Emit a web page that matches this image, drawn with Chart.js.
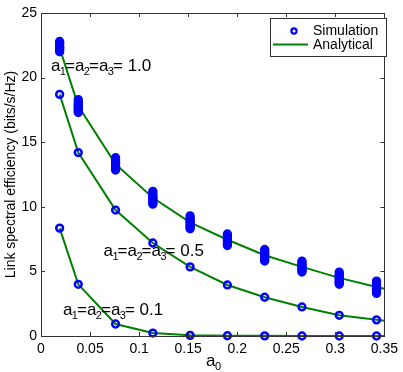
<!DOCTYPE html>
<html>
<head>
<meta charset="utf-8">
<script src="https://cdn.jsdelivr.net/npm/chart.js@4"></script>
<style>
  html, body { margin: 0; padding: 0; background: #fff; }
  #wrap { width: 403px; height: 372px; }
</style>
</head>
<body>
<div id="wrap"><canvas id="mychart" width="403" height="372"></canvas></div>
<script>
// a0 values where the curves were evaluated
var a0Values = [0.019, 0.038, 0.076, 0.114, 0.152, 0.19, 0.228, 0.266, 0.304, 0.342];
var a0Analytical = [0.019, 0.038, 0.076, 0.114, 0.152, 0.19, 0.228, 0.266, 0.304, 0.342, 0.35];

// analytical curves (bits/s/Hz)
var analytical10 = [22.3, 17.8, 13.3, 10.7, 8.8, 7.45, 6.25, 5.35, 4.5, 3.8, 3.65];
var analytical05 = [18.7, 14.2, 9.75, 7.2, 5.35, 3.95, 3.0, 2.25, 1.6, 1.25, 1.18];
var analytical01 = [8.35, 4.0, 0.93, 0.23, 0.05, 0.02, 0.01, 0.0, 0.0, 0.0, 0.0];

// simulation runs, several per a0 for a1=a2=a3=1.0
var sim10 = [
  [22.0, 22.1, 22.2, 22.3, 22.35, 22.45, 22.55, 22.65, 22.72, 22.8],
  [17.3, 17.4, 17.52, 17.62, 17.7, 17.8, 17.9, 18.0, 18.15, 18.3],
  [12.85, 12.95, 13.05, 13.15, 13.25, 13.35, 13.45, 13.55, 13.68, 13.8],
  [10.2, 10.3, 10.4, 10.5, 10.6, 10.7, 10.8, 10.9, 11.05, 11.2],
  [8.3, 8.4, 8.5, 8.6, 8.7, 8.8, 8.9, 9.0, 9.15, 9.3],
  [7.0, 7.1, 7.2, 7.3, 7.4, 7.48, 7.58, 7.68, 7.8, 7.9],
  [5.8, 5.9, 6.0, 6.1, 6.2, 6.28, 6.38, 6.48, 6.6, 6.7],
  [4.95, 5.05, 5.15, 5.25, 5.35, 5.42, 5.5, 5.6, 5.7, 5.8],
  [4.0, 4.1, 4.2, 4.3, 4.4, 4.48, 4.58, 4.68, 4.8, 4.95],
  [3.3, 3.4, 3.5, 3.6, 3.7, 3.78, 3.88, 3.98, 4.1, 4.25]
];
var sim05 = [18.7, 14.2, 9.75, 7.2, 5.35, 3.95, 3.0, 2.25, 1.6, 1.25];
var sim01 = [8.35, 4.0, 0.93, 0.23, 0.05, 0.02, 0.01, 0.0, 0.0, 0.0];

var xTicks = [0, 0.05, 0.1, 0.15, 0.2, 0.25, 0.3, 0.35];
var yTicks = [0, 5, 10, 15, 20, 25];

var FONT = "'Liberation Sans', Arial, Helvetica, sans-serif";
var GREEN = '#008000';
var BLUE = '#0000ff';

function toPoints(xs, ys) {
  var pts = [];
  for (var i = 0; i < ys.length; i++) pts.push({x: xs[i], y: ys[i]});
  return pts;
}

var simPoints10 = [];
for (var i = 0; i < a0Values.length; i++) {
  for (var j = 0; j < sim10[i].length; j++) simPoints10.push({x: a0Values[i], y: sim10[i][j]});
}

function simSet(pts) {
  return {
    label: 'Simulation', data: pts, showLine: false,
    pointStyle: 'circle', pointRadius: 3.4, pointHoverRadius: 3.4,
    borderColor: BLUE, backgroundColor: 'rgba(0,0,0,0)', pointBorderWidth: 2.5
  };
}
function lineSet(pts) {
  return {
    label: 'Analytical', data: pts, showLine: true, borderColor: GREEN,
    borderWidth: 2, pointRadius: 0, tension: 0, fill: false
  };
}

// draws a label like a1=a2=a3=1.0 with subscripts
function drawSubText(ctx, x, y, parts, size) {
  var subSize = Math.round(size * 0.66);
  for (var i = 0; i < parts.length; i++) {
    var p = parts[i];
    if (p.sub) {
      ctx.font = subSize + 'px ' + FONT;
      ctx.fillText(p.t, x - 0.5, y + 4);
      x += ctx.measureText(p.t).width - 1.5;
    } else {
      ctx.font = size + 'px ' + FONT;
      ctx.fillText(p.t, x, y);
      x += ctx.measureText(p.t).width;
    }
  }
}
function labelParts(v) {
  return [{t: 'a'}, {t: '1', sub: true}, {t: '='}, {t: 'a'}, {t: '2', sub: true}, {t: '='},
          {t: 'a'}, {t: '3', sub: true}, {t: '= ' + v}];
}

var extras = {
  id: 'extras',
  afterDraw: function(chart) {
    var ctx = chart.ctx, a = chart.chartArea;
    var xs = chart.scales.x, ys = chart.scales.y;
    ctx.save();
    // inward ticks on all four sides
    ctx.strokeStyle = '#333';
    ctx.lineWidth = 1;
    ctx.beginPath();
    xTicks.forEach(function(t) {
      var px = Math.round(xs.getPixelForValue(t)) + 0.5;
      ctx.moveTo(px, a.bottom); ctx.lineTo(px, a.bottom - 4);
      ctx.moveTo(px, a.top); ctx.lineTo(px, a.top + 4);
    });
    yTicks.forEach(function(t) {
      var py = Math.round(ys.getPixelForValue(t)) + 0.5;
      ctx.moveTo(a.left, py); ctx.lineTo(a.left + 4, py);
      ctx.moveTo(a.right, py); ctx.lineTo(a.right - 4, py);
    });
    ctx.stroke();
    // box
    ctx.strokeStyle = '#333';
    ctx.strokeRect(Math.round(a.left) + 0.5, Math.round(a.top) + 0.5,
                   Math.round(a.right - a.left), Math.round(a.bottom - a.top));

    // curve labels
    ctx.fillStyle = '#000';
    ctx.textBaseline = 'alphabetic';
    ctx.textAlign = 'left';
    drawSubText(ctx, xs.getPixelForValue(0.0101), ys.getPixelForValue(20.5), labelParts('1.0'), 17);
    drawSubText(ctx, xs.getPixelForValue(0.0637), ys.getPixelForValue(6.17), labelParts('0.5'), 17);
    drawSubText(ctx, xs.getPixelForValue(0.0223), ys.getPixelForValue(1.62), labelParts('0.1'), 17);

    // x axis title a0
    drawSubText(ctx, 206, 366, [{t: 'a'}, {t: '0', sub: true}], 17);

    // legend
    var lx = 270.5, ly = 18.5, lw = 116, lh = 38;
    ctx.fillStyle = '#fff';
    ctx.fillRect(lx, ly, lw, lh);
    ctx.strokeStyle = '#333';
    ctx.lineWidth = 1;
    ctx.strokeRect(lx, ly, lw, lh);
    ctx.strokeStyle = BLUE;
    ctx.lineWidth = 2.2;
    ctx.beginPath();
    ctx.arc(294, 31, 2.6, 0, Math.PI * 2);
    ctx.stroke();
    ctx.strokeStyle = GREEN;
    ctx.lineWidth = 2;
    ctx.beginPath();
    ctx.moveTo(273, 44.5); ctx.lineTo(308, 44.5);
    ctx.stroke();
    ctx.fillStyle = '#000';
    ctx.font = '14px ' + FONT;
    ctx.textBaseline = 'middle';
    ctx.fillText('Simulation', 313, 31);
    ctx.fillText('Analytical', 313, 45);
    ctx.restore();
  }
};

var ctx = document.getElementById('mychart').getContext('2d');
var chart = new Chart(ctx, {
  type: 'scatter',
  data: {
    datasets: [
      simSet(simPoints10),
      simSet(toPoints(a0Values, sim05)),
      simSet(toPoints(a0Values, sim01)),
      lineSet(toPoints(a0Analytical, analytical10)),
      lineSet(toPoints(a0Analytical, analytical05)),
      lineSet(toPoints(a0Analytical, analytical01))
    ]
  },
  plugins: [extras],
  options: {
    responsive: false,
    animation: false,
    events: [],
    clip: false,
    layout: { padding: { left: 0, top: 13, right: 16, bottom: 0 } },
    plugins: { legend: { display: false }, tooltip: { enabled: false } },
    scales: {
      x: {
        type: 'linear', min: 0, max: 0.35,
        afterBuildTicks: function(s) { s.ticks = xTicks.map(function(v) { return {value: v}; }); },
        afterFit: function(s) { s.height = 36; },
        grid: { display: false, drawTicks: false },
        border: { display: false },
        ticks: {
          color: '#000', padding: 5, maxRotation: 0, autoSkip: false,
          font: { family: FONT, size: 14 },
          callback: function(v) { return String(+v.toFixed(2)); }
        }
      },
      y: {
        type: 'linear', min: 0, max: 25,
        afterBuildTicks: function(s) { s.ticks = yTicks.map(function(v) { return {value: v}; }); },
        afterFit: function(s) { s.width = 41; },
        grid: { display: false, drawTicks: false },
        border: { display: false },
        ticks: {
          color: '#000', padding: 4,
          font: { family: FONT, size: 14 }
        },
        title: {
          display: true, text: 'Link spectral efficiency (bits/s/Hz)', color: '#000',
          font: { family: FONT, size: 14 }, padding: { top: 3, bottom: 0 }
        }
      }
    }
  }
});
</script>
</body>
</html>
